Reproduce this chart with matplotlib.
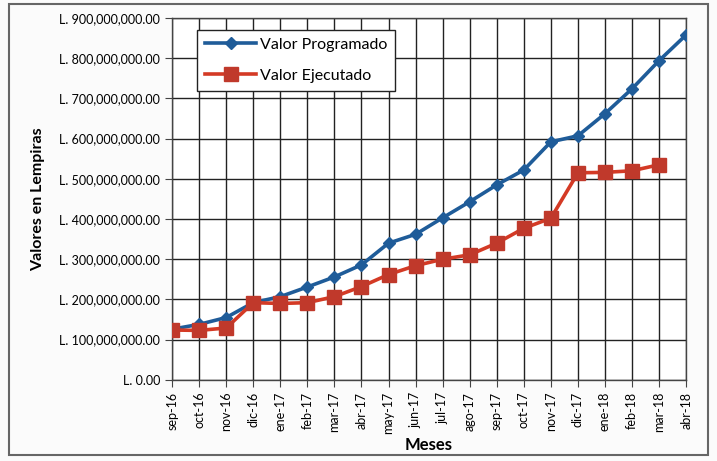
import matplotlib
matplotlib.use("Agg")
import matplotlib.pyplot as plt
from matplotlib.patches import Rectangle
from matplotlib.ticker import FuncFormatter, MultipleLocator

meses = ["sep-16", "oct-16", "nov-16", "dic-16", "ene-17", "feb-17", "mar-17",
         "abr-17", "may-17", "jun-17", "jul-17", "ago-17", "sep-17", "oct-17",
         "nov-17", "dic-17", "ene-18", "feb-18", "mar-18", "abr-18"]
programado = [126e6, 138e6, 155e6, 192e6, 207e6, 231e6, 256e6, 286e6, 340e6,
              362e6, 403e6, 443e6, 485e6, 522e6, 592e6, 607e6, 662e6, 724e6,
              794e6, 858e6]
ejecutado = [124e6, 123e6, 129e6, 192e6, 190e6, 192e6, 207e6, 232e6, 262e6,
             284e6, 300e6, 311e6, 340e6, 377e6, 402e6, 515e6, 516e6, 520e6,
             535e6]

plt.rcParams['font.family'] = ['Lato', 'DejaVu Sans']

fig = plt.figure(figsize=(7.17, 4.61), dpi=100)
fig.patch.set_facecolor("#fbfbfb")
ax = fig.add_axes([0.240, 0.176, 0.717, 0.785])

x = list(range(len(meses)))
ax.plot(x, programado, color="#1f5c99", lw=2.6, marker="D", ms=6,
        mfc="#1f5c99", mec="#1f5c99", label="Valor Programado", zorder=3)
ax.plot(x[:len(ejecutado)], ejecutado, color="#d43a25", lw=2.6, marker="s", ms=10,
        mfc="#c0392b", mec="#c0392b", label="Valor Ejecutado", zorder=4)

ax.set_xlim(0, len(meses) - 1)
ax.set_ylim(0, 900e6)
ax.yaxis.set_major_locator(MultipleLocator(100e6))
ax.yaxis.set_major_formatter(FuncFormatter(lambda v, p: "L. {:,.2f}".format(v)))
ax.set_xticks(x)
ax.set_xticklabels(meses, rotation=90, fontsize=9)
ax.tick_params(axis="y", labelsize=9, length=5, color="#444444")
ax.tick_params(axis="x", length=5, color="#444444")
ax.grid(True, color="#222222", lw=1.0)
ax.set_axisbelow(True)
for s in ax.spines.values():
    s.set_color("#444444")
    s.set_linewidth(1.0)

ax.set_ylabel("Valores en Lempiras", fontsize=11.5, fontweight="bold", labelpad=10)
ax.set_xlabel("Meses", fontsize=12, fontweight="bold", labelpad=2)

leg = ax.legend(loc="upper left", bbox_to_anchor=(0.049, 0.968), fontsize=11.5,
                frameon=True, fancybox=False, edgecolor="#222222",
                handlelength=3.2, borderpad=0.5, labelspacing=1.05,
                handletextpad=0.2, borderaxespad=0)
leg.get_frame().set_linewidth(1.0)
leg.get_frame().set_facecolor("white")
leg.get_frame().set_alpha(1)

fig.patches.append(Rectangle((0.012, 0.012), 0.976, 0.98, transform=fig.transFigure,
                             fill=False, edgecolor="#666666", lw=1.5))

fig.savefig("out.png", dpi=100)
